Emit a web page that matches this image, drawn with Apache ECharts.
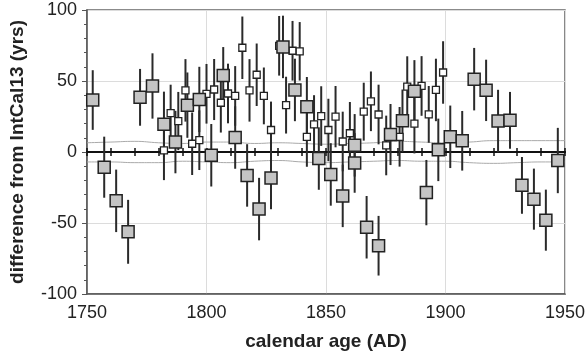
<!DOCTYPE html>
<html>
<head>
<meta charset="utf-8">
<script src="https://cdn.jsdelivr.net/npm/echarts@6/dist/echarts.min.js"></script>
<style>
html,body{margin:0;padding:0;background:#fff;}
#c{width:588px;height:356px;}
</style>
</head>
<body>
<div id="c"></div>
<script>
// Large grey squares
const greyYear = [1752.4,1757.2,1762.2,1767.2,1772.2,1777.4,1782.2,1787,1792,1797,1802,1807,1812,1817,1822,1827,1832,1837,1842,1847,1852,1857,1862,1862,1867,1872,1877,1882,1887,1892,1897,1902,1907,1912,1917,1922,1927,1932,1937,1942,1947];
const greyVal  = [36.6,-10.7,-34.4,-56.2,38.5,46.5,19.5,7,33,37,-2.3,53.9,10.2,-16.5,-40.2,-18.3,74,43.7,31.8,-4.6,-15.8,-30.9,4.7,-7.7,-53,-66,12.3,22,42.7,-28.6,1.5,10.7,7.9,51.3,43.4,21.8,22.3,-23.5,-33.2,-48,-6];
const greyErr  = [21,21.5,22,22.5,20,23,23,22,23,23,22,20,22,22,22,22,22,22,21,22,22,22,22,21,22,21,21.5,22,22,23,22,22,21,22,21.6,22,20,20,21.5,21.5,23];
// Small white squares
const whiteYear = [1782.2,1785,1788.2,1791.2,1794,1797,1800,1803.2,1806,1809,1812,1815,1818,1821,1824,1827,1830.4,1833.3,1836,1839,1842,1845,1848,1851,1854,1857,1860,1865.8,1868.8,1872,1875.2,1880.8,1884,1887,1890,1893,1896,1899];
const whiteVal  = [1.2,27.4,21.8,43.4,5.8,8.3,41,44,34.7,41.2,39.5,73.4,43.4,54.4,39.5,15.5,74.8,33,71.3,70.9,10.6,19.5,25.3,15.5,24.9,7.4,13.2,28.4,35.7,26.4,4.6,10.7,46,20,46.5,26.5,43.7,56];
const whiteErr  = [21,20,20.5,22,22,21,21,21.5,21,21,21,22,22,22,20,20,21,20,21,20.6,21,20.5,21,22,21.6,21,22,20.4,21,21,21,21,21.4,21,21,20,22,22];
// Envelope (grey thin lines)
const envYear  = [1750,1760,1770,1780,1790,1800,1810,1820,1830,1840,1850,1860,1870,1880,1890,1900,1910,1920,1930,1940,1950];
const envUpper = [6.5,7,7.5,6.5,6,7,7,6,6.5,6,5.5,6,6.5,7.5,7,6.5,7,8,8,8,8];
const envLower = [-7,-7,-7.5,-7.5,-6.5,-7,-7.5,-6.5,-6,-7,-7.5,-7,-6.5,-6,-6.5,-6.5,-7.5,-8,-7.5,-7,-7];
// Axis ticks
const xTicks = [1750,1800,1850,1900,1950];
const yTicks = [-100,-50,0,50,100];

const FONT = "'Liberation Sans', Arial, Helvetica, sans-serif";
const chart = echarts.init(document.getElementById('c'), null, {renderer:'canvas'});

function errData(xs, vs, es){ return xs.map((x,i)=>[x, vs[i]-es[i], vs[i]+es[i]]); }
function errRender(params, api){
  const x = api.value(0);
  const p1 = api.coord([x, api.value(1)]);
  const p2 = api.coord([x, api.value(2)]);
  return {type:'line', shape:{x1:p1[0],y1:p1[1],x2:p2[0],y2:p2[1]}, style:{stroke:'#2a2a2a', lineWidth:2}};
}

const zeroAxisBase = {
  type:'value', min:xTicks[0], max:xTicks[xTicks.length-1], interval:10,
  axisLine:{show:true, onZero:true, onZeroAxisIndex:0, lineStyle:{color:'#111', width:2}},
  axisLabel:{show:false}, splitLine:{show:false}
};

chart.setOption({
  animation:false,
  backgroundColor:'#fff',
  grid:{left:86, right:22, top:10, bottom:59, show:true, borderColor:'#666', borderWidth:1.5, backgroundColor:'transparent'},
  xAxis:[
    {type:'value', min:xTicks[0], max:xTicks[xTicks.length-1], interval:50,
     axisLine:{show:true, onZero:false, lineStyle:{color:'#555', width:1.5}},
     axisTick:{show:false},
     axisLabel:{fontSize:18, color:'#222', fontFamily:FONT, margin:10, formatter:v=>String(v)},
     splitLine:{show:true, lineStyle:{color:'#dcdcdc', width:1}},
     name:'calendar age (AD)', nameLocation:'middle', nameGap:38,
     nameTextStyle:{fontSize:19, fontWeight:'bold', color:'#222', fontFamily:FONT}},
    Object.assign({}, zeroAxisBase, {axisTick:{show:true, inside:true, length:4, lineStyle:{color:'#111', width:1.5}}}),
    Object.assign({}, zeroAxisBase, {axisTick:{show:true, inside:false, length:4, lineStyle:{color:'#111', width:1.5}}})
  ],
  yAxis:{type:'value', min:yTicks[0], max:yTicks[yTicks.length-1], interval:50,
    axisLine:{show:true, onZero:false, lineStyle:{color:'#555', width:1.5}},
    axisTick:{show:true, inside:false, length:5, lineStyle:{color:'#555'}},
    minorTick:{show:true, splitNumber:5, length:3, lineStyle:{color:'#555'}},
    axisLabel:{fontSize:18, color:'#222', fontFamily:FONT, margin:10},
    splitLine:{show:true, lineStyle:{color:'#dcdcdc', width:1}},
    name:'difference from IntCal13 (yrs)', nameLocation:'middle', nameGap:60,
    nameTextStyle:{fontSize:19, fontWeight:'bold', color:'#222', fontFamily:FONT}},
  series:[
    {type:'line', data:envYear.map((x,i)=>[x,envUpper[i]]), smooth:true, symbol:'none', lineStyle:{color:'#aaa', width:1}, z:1},
    {type:'line', data:envYear.map((x,i)=>[x,envLower[i]]), smooth:true, symbol:'none', lineStyle:{color:'#aaa', width:1}, z:1},
    {type:'custom', renderItem:errRender, data:errData(whiteYear, whiteVal, whiteErr), z:2},
    {type:'custom', renderItem:errRender, data:errData(greyYear, greyVal, greyErr), z:2},
    {type:'scatter', data:whiteYear.map((x,i)=>[x,whiteVal[i]]), symbol:'rect', symbolSize:7,
     itemStyle:{color:'#fff', borderColor:'#222', borderWidth:1.3, opacity:1}, z:3},
    {type:'scatter', data:greyYear.map((x,i)=>[x,greyVal[i]]), symbol:'rect', symbolSize:12,
     itemStyle:{color:'#c4c4c4', borderColor:'#222', borderWidth:1.5, opacity:1}, z:4}
  ]
});
</script>
</body>
</html>
